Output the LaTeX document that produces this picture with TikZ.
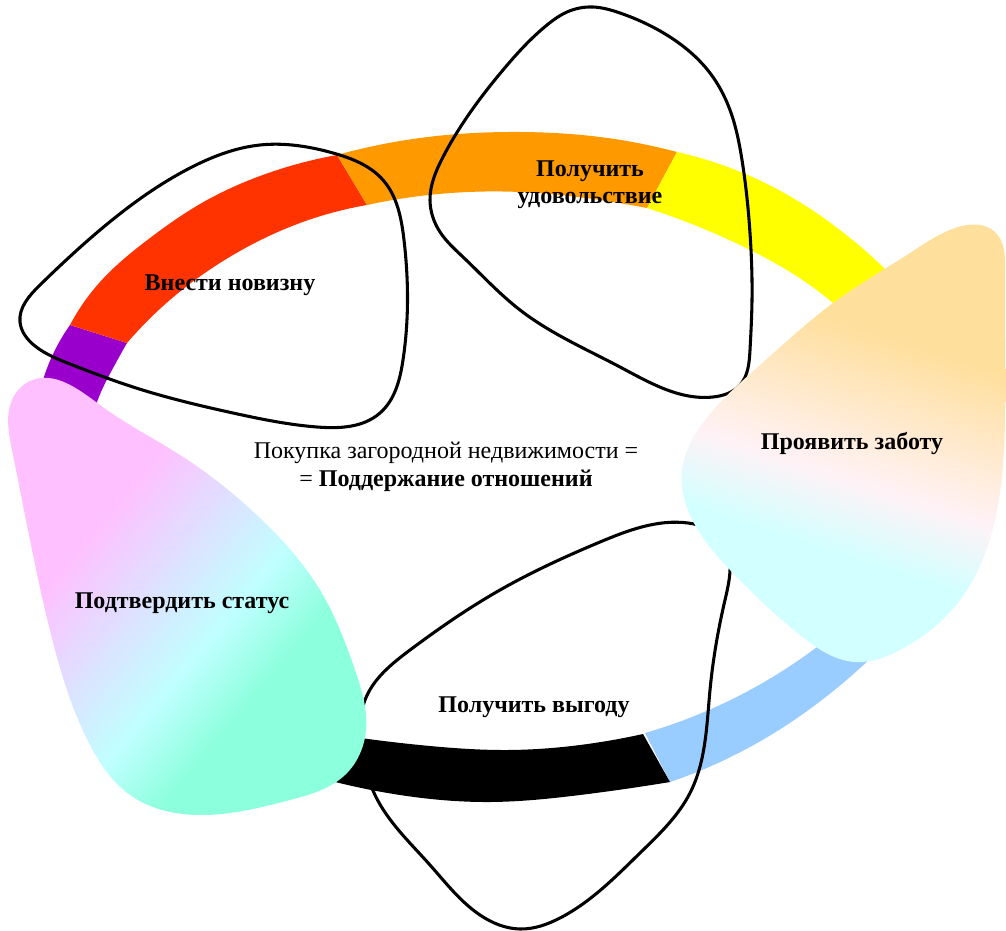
\documentclass[tikz,border=0pt]{standalone}
\usepackage{fontspec}
\setmainfont{Liberation Serif}
\usetikzlibrary{hobby}
\definecolor{ringviolet}{HTML}{9900CC}
\definecolor{ringred}{HTML}{FF3300}
\definecolor{ringorange}{HTML}{FF9900}
\definecolor{ringyellow}{HTML}{FFFF00}
\definecolor{ringblue}{HTML}{99CCFF}
\definecolor{carepeach}{HTML}{FFDF9C}
\definecolor{carepink}{HTML}{FFF2F6}
\definecolor{carecyan}{HTML}{D2FFFF}
\definecolor{statuspink}{HTML}{FFC0FF}
\definecolor{statuscyan}{HTML}{C0FFFF}
\definecolor{statusaqua}{HTML}{8CFFDC}
\pgfdeclareverticalshading{careshade}{100bp}{color(0bp)=(carecyan); color(37bp)=(carecyan);
  color(46bp)=(carepink); color(64bp)=(carepeach); color(100bp)=(carepeach)}
\pgfdeclareverticalshading{statusshade}{100bp}{color(0bp)=(statusaqua); color(35bp)=(statusaqua);
  color(44bp)=(statuscyan); color(64bp)=(statuspink); color(100bp)=(statuspink)}

\begin{document}
\begin{tikzpicture}[x=0.75pt, y=-0.75pt,
    every node/.style={font=\fontsize{18}{20.5}\selectfont, align=center},
    caption/.style={font=\fontsize{18}{20.5}\selectfont\bfseries},
    blobline/.style={line width=2.3pt, line join=round}]
  \useasboundingbox (0,0) rectangle (1006,931);

  % ring segments
  \fill[ringviolet] plot[hobby] coordinates {(38,400) (43,380) (55,350) (70,325)}
    -- plot[hobby] coordinates {(127,343) (112,370) (97,402) (92,420)} -- cycle;
  \fill[ringred] plot[hobby] coordinates {(70,325) (100,282) (150,238) (200,204) (260,176) (337,155)}
    -- plot[hobby] coordinates {(367,205) (300,223) (233,255) (177,294) (127,343)} -- cycle;
  \fill[ringorange] plot[hobby] coordinates {(337,155) (420,138) (520,132) (600,137) (677,152)}
    -- plot[hobby] coordinates {(647,208) (600,200) (520,192) (420,196) (367,205)} -- cycle;
  \fill[ringyellow] plot[hobby] coordinates {(677,152) (773,187) (840,230) (883,267) (915,300)}
    -- plot[hobby] coordinates {(865,335) (833,303) (740,245) (647,208)} -- cycle;
  \fill[ringblue] plot[hobby] coordinates {(670,782) (750,747) (850,677) (925,600)}
    -- plot[hobby] coordinates {(850,620) (750,690) (645,733)} -- cycle;
  \fill[black] plot[hobby] coordinates {(320,778) (400,795) (490,802) (580,795) (670,782)}
    -- plot[hobby] coordinates {(643,734) (580,745) (507,750) (430,746) (340,735)} -- cycle;

  % outlined blobs
  \draw[blobline] plot[closed hobby] coordinates {(20,322) (40,285) (100,230) (190,168)
    (260,145) (333,153) (383,180) (404,240) (403,360) (380,413) (317,427)
    (233,413) (133,387) (70,364) (35,346)};
  \draw[blobline] plot[closed hobby] coordinates {(593,7) (620,13) (670,37) (710,73) (730,110)
    (742,160) (750,233) (752,300) (750,350) (740,385) (713,397) (620,367) (520,310) (463,257)
    (440,232) (430,200) (443,157) (503,70) (547,25) (567,12)};
  \draw[blobline] plot[closed hobby] coordinates {(688,523) (600,542) (500,590) (410,650)
    (365,700) (362,750) (375,795) (430,865) (480,915) (520,929) (560,918) (640,853) (690,793)
    (710,690) (725,600) (722,540)};

  % filled blobs
  \shade[shading=careshade, shading angle=-18]
    plot[closed hobby] coordinates {(955,228) (995,232) (1005,270) (1005,420) (995,520) (960,600)
    (900,650) (855,662) (800,635) (730,570) (690,515) (682,470) (705,420) (760,365) (840,298)
    (910,253)};
  \shade[shading=statusshade, shading angle=50]
    plot[closed hobby] coordinates {(12,400) (30,381) (100,405) (180,455) (260,518) (320,590)
    (355,670) (366,730) (345,775) (290,800) (200,815) (130,795) (90,745) (55,650) (30,540)
    (12,450)};

  % labels
  \node[caption] (novelty) at (230,285) {Внести новизну};
  \node[caption] (pleasure) at (590,185) {Получить\\удовольствие};
  \node[caption] (care) at (852,443) {Проявить заботу};
  \node[caption] (status) at (182,603) {Подтвердить статус};
  \node[caption] (benefit) at (534,707) {Получить выгоду};
  \node (core) at (446,467) {Покупка загородной недвижимости =\\= \textbf{Поддержание отношений}};
\end{tikzpicture}
\end{document}
